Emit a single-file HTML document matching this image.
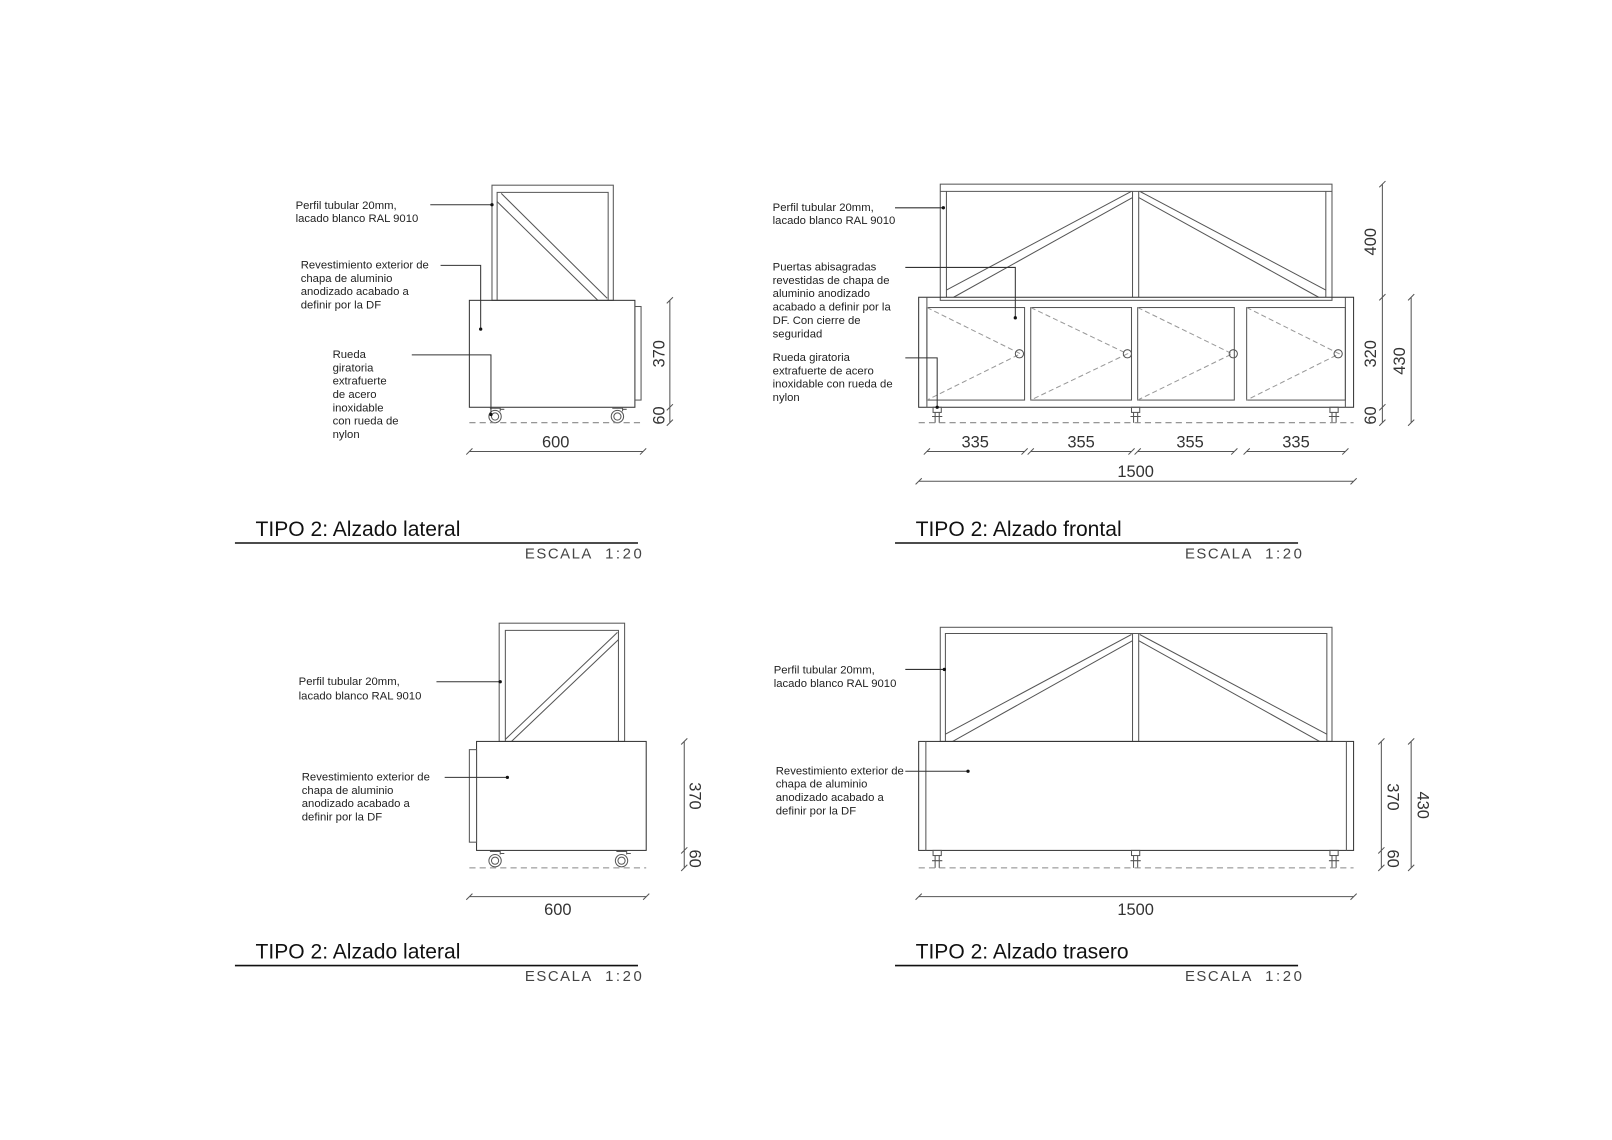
<!DOCTYPE html>
<html><head><meta charset="utf-8"><style>
html,body{margin:0;padding:0;background:#fff}
svg{display:block}
text{font-family:"Liberation Sans",sans-serif;fill:#222}
.l{font-size:11px}
.d{font-size:16px;fill:#333}
.t{font-size:20.5px;fill:#111}
.e{font-size:14.5px;letter-spacing:1.5px;fill:#444}
.f{font-size:14.5px;letter-spacing:2.5px;fill:#444}
</style></head><body>
<svg width="1612" height="1140" viewBox="0 0 1560 1103" xmlns="http://www.w3.org/2000/svg">
<g transform="matrix(0.995 0 0 0.995 0.5 -1)">
<g fill="none" stroke="#555" stroke-width="1">
<rect x="478" y="181" width="118" height="112"/>
<path d="M483 293V188H591V293"/>
<path d="M487 189L590 291M483 197L581 293"/>
<rect x="456" y="293" width="161" height="104" stroke="#333"/>
<rect x="617" y="299" width="6" height="91"/>
<g><circle cx="481" cy="406" r="6"/><circle cx="481" cy="406" r="3.5"/><path d="M476 398h10v3M486 399h4"/></g>
<g><circle cx="600" cy="406" r="6"/><circle cx="600" cy="406" r="3.5"/><path d="M595 398h10v3M605 399h4"/></g>
<path d="M456 412H625" stroke-dasharray="6 4" stroke="#888"/>
<path d="M651 293V412M648 296l6-6M648 400l6-6M648 415l6-6"/>
<path d="M456 440H625M453 443l6-6M622 443l6-6"/>
<path d="M418 200H478M428 259H467V321M400 346H477V404" stroke="#333"/>
<rect x="914" y="180" width="381" height="113"/>
<path d="M914 187H1295M920 187V290M1289 187V290M1101 187V290M1107 187V290"/>
<path d="M920 283L1100 187M927 290L1101 193M1108 187L1289 283M1107 193L1282 290"/>
<rect x="893" y="290" width="423" height="107" stroke="#333"/>
<path d="M901 290V397M1308 290V397"/>
<rect x="901" y="300" width="95" height="90"/>
<rect x="1002" y="300" width="98" height="90"/>
<rect x="1106" y="300" width="94" height="90"/>
<rect x="1212" y="300" width="96" height="90"/>
<g stroke-dasharray="5 3" stroke="#999">
<path d="M901 300L992 345L901 390M1002 300L1096 345L1002 390M1106 300L1198 345L1106 390M1212 300L1302 345L1212 390"/></g>
<circle cx="991" cy="345" r="4"/><circle cx="1096" cy="345" r="4"/><circle cx="1199" cy="345" r="4"/><circle cx="1301" cy="345" r="4"/>
<g><rect x="907" y="397" width="8" height="5"/><path d="M909 402V412M913 402V412M906 406h10"/></g>
<g><rect x="1100" y="397" width="8" height="5"/><path d="M1102 402V412M1106 402V412M1099 406h10"/></g>
<g><rect x="1293" y="397" width="8" height="5"/><path d="M1295 402V412M1299 402V412M1292 406h10"/></g>
<path d="M893 412H1316" stroke-dasharray="6 4" stroke="#888"/>
<path d="M1344 180V412M1341 183l6-6M1341 293l6-6M1341 400l6-6M1341 415l6-6"/>
<path d="M1372 290V412M1369 293l6-6M1369 415l6-6"/>
<path d="M901 440H996M1002 440H1100M1106 440H1200M1212 440H1308"/>
<path d="M898 443l6-6M993 443l6-6M999 443l6-6M1097 443l6-6M1103 443l6-6M1197 443l6-6M1209 443l6-6M1305 443l6-6"/>
<path d="M893 469H1316M890 472l6-6M1313 472l6-6"/>
<path d="M870 203H917M880 261H987V310M880 349H911V397" stroke="#333"/>
<rect x="485" y="607" width="122" height="115"/>
<path d="M491 722V614H601V722"/>
<path d="M491 720L600 616M497 722L601 623"/>
<rect x="463" y="722" width="165" height="106" stroke="#333"/>
<rect x="456" y="730" width="7" height="90"/>
<g><circle cx="481" cy="838" r="6"/><circle cx="481" cy="838" r="3.5"/><path d="M476 829h10v3M486 831h4"/></g>
<g><circle cx="604" cy="838" r="6"/><circle cx="604" cy="838" r="3.5"/><path d="M599 829h10v3M609 831h4"/></g>
<path d="M456 845H628" stroke-dasharray="6 4" stroke="#888"/>
<path d="M665 722V845M662 725l6-6M662 831l6-6M662 848l6-6"/>
<path d="M456 873H628M453 876l6-6M625 876l6-6"/>
<path d="M424 664H486M432 757H493" stroke="#333"/>
<rect x="914" y="611" width="381" height="111"/>
<path d="M919 722V617H1290V722M1101 617V722M1107 617V722"/>
<path d="M919 715L1100 618M926 722L1101 624M1108 618L1290 715M1107 624L1283 722"/>
<rect x="893" y="722" width="423" height="106" stroke="#333"/>
<path d="M900 722V828M1309 722V828"/>
<g><rect x="907" y="828" width="8" height="5"/><path d="M909 833V845M913 833V845M906 838h10"/></g>
<g><rect x="1100" y="828" width="8" height="5"/><path d="M1102 833V845M1106 833V845M1099 838h10"/></g>
<g><rect x="1293" y="828" width="8" height="5"/><path d="M1295 833V845M1299 833V845M1292 838h10"/></g>
<path d="M893 845H1316" stroke-dasharray="6 4" stroke="#888"/>
<path d="M1343 722V845M1340 725l6-6M1340 831l6-6M1340 848l6-6"/>
<path d="M1372 722V845M1369 725l6-6M1369 848l6-6"/>
<path d="M893 873H1316M890 876l6-6M1313 876l6-6"/>
<path d="M880 652H918M880 751H941" stroke="#333"/>
<path d="M228 529H620M870 529H1262M228 940H620M870 940H1262" stroke="#111" stroke-width="1.5"/>
</g>
<g fill="#111">
<circle cx="478" cy="200" r="1.6"/><circle cx="467" cy="321" r="1.6"/><circle cx="477" cy="404" r="1.6"/>
<circle cx="917" cy="203" r="1.6"/><circle cx="987" cy="310" r="1.6"/><circle cx="911" cy="397" r="1.6"/>
<circle cx="486" cy="664" r="1.6"/><circle cx="493" cy="757" r="1.6"/>
<circle cx="918" cy="652" r="1.6"/><circle cx="941" cy="751" r="1.6"/>
</g>
<text class="l" x="287" y="204">Perfil tubular 20mm,</text>
<text class="l" x="287" y="217">lacado blanco RAL 9010</text>
<text class="l" x="292" y="262">Revestimiento exterior de</text>
<text class="l" x="292" y="275">chapa de aluminio</text>
<text class="l" x="292" y="288">anodizado acabado  a</text>
<text class="l" x="292" y="301">definir por la DF</text>
<text class="l" x="323" y="349">Rueda</text>
<text class="l" x="323" y="362">giratoria</text>
<text class="l" x="323" y="375">extrafuerte</text>
<text class="l" x="323" y="388">de acero</text>
<text class="l" x="323" y="401">inoxidable</text>
<text class="l" x="323" y="414">con rueda de</text>
<text class="l" x="323" y="427">nylon</text>

<text class="l" x="751" y="206">Perfil tubular 20mm,</text>
<text class="l" x="751" y="219">lacado blanco RAL 9010</text>
<text class="l" x="751" y="264">Puertas abisagradas</text>
<text class="l" x="751" y="277">revestidas de chapa de</text>
<text class="l" x="751" y="290">aluminio anodizado</text>
<text class="l" x="751" y="303">acabado  a definir por la</text>
<text class="l" x="751" y="316">DF. Con cierre de</text>
<text class="l" x="751" y="329">seguridad</text>
<text class="l" x="751" y="352">Rueda giratoria</text>
<text class="l" x="751" y="365">extrafuerte de acero</text>
<text class="l" x="751" y="378">inoxidable con rueda de</text>
<text class="l" x="751" y="391">nylon</text>

<text class="l" x="290" y="667">Perfil tubular 20mm,</text>
<text class="l" x="290" y="681">lacado blanco RAL 9010</text>
<text class="l" x="293" y="760">Revestimiento exterior de</text>
<text class="l" x="293" y="773">chapa de aluminio</text>
<text class="l" x="293" y="786">anodizado acabado  a</text>
<text class="l" x="293" y="799">definir por la DF</text>

<text class="l" x="752" y="656">Perfil tubular 20mm,</text>
<text class="l" x="752" y="669">lacado blanco RAL 9010</text>
<text class="l" x="754" y="754">Revestimiento exterior de</text>
<text class="l" x="754" y="767">chapa de aluminio</text>
<text class="l" x="754" y="780">anodizado acabado  a</text>
<text class="l" x="754" y="793">definir por la DF</text>

<text class="d" x="540" y="436" text-anchor="middle">600</text>
<text class="d" transform="translate(646,345) rotate(-90)" text-anchor="middle">370</text>
<text class="d" transform="translate(646,405) rotate(-90)" text-anchor="middle">60</text>

<text class="d" x="948" y="436" text-anchor="middle">335</text>
<text class="d" x="1051" y="436" text-anchor="middle">355</text>
<text class="d" x="1157" y="436" text-anchor="middle">355</text>
<text class="d" x="1260" y="436" text-anchor="middle">335</text>
<text class="d" x="1104" y="465" text-anchor="middle">1500</text>
<text class="d" transform="translate(1338,236) rotate(-90)" text-anchor="middle">400</text>
<text class="d" transform="translate(1338,345) rotate(-90)" text-anchor="middle">320</text>
<text class="d" transform="translate(1338,405) rotate(-90)" text-anchor="middle">60</text>
<text class="d" transform="translate(1366,352) rotate(-90)" text-anchor="middle">430</text>

<text class="d" x="542" y="891" text-anchor="middle">600</text>
<text class="d" transform="translate(670,775) rotate(90)" text-anchor="middle">370</text>
<text class="d" transform="translate(670,836) rotate(90)" text-anchor="middle">60</text>

<text class="d" x="1104" y="891" text-anchor="middle">1500</text>
<text class="d" transform="translate(1349,776) rotate(90)" text-anchor="middle">370</text>
<text class="d" transform="translate(1349,836) rotate(90)" text-anchor="middle">60</text>
<text class="d" transform="translate(1378,784) rotate(90)" text-anchor="middle">430</text>

<text class="t" x="248" y="522">TIPO 2: Alzado lateral</text>
<text class="e" x="510" y="544">ESCALA</text><text class="f" x="588" y="544">1:20</text>
<text class="t" x="890" y="522">TIPO 2: Alzado frontal</text>
<text class="e" x="1152" y="544">ESCALA</text><text class="f" x="1230" y="544">1:20</text>
<text class="t" x="248" y="933">TIPO 2: Alzado lateral</text>
<text class="e" x="510" y="955">ESCALA</text><text class="f" x="588" y="955">1:20</text>
<text class="t" x="890" y="933">TIPO 2: Alzado trasero</text>
<text class="e" x="1152" y="955">ESCALA</text><text class="f" x="1230" y="955">1:20</text>
</g>
</svg>
</body></html>
